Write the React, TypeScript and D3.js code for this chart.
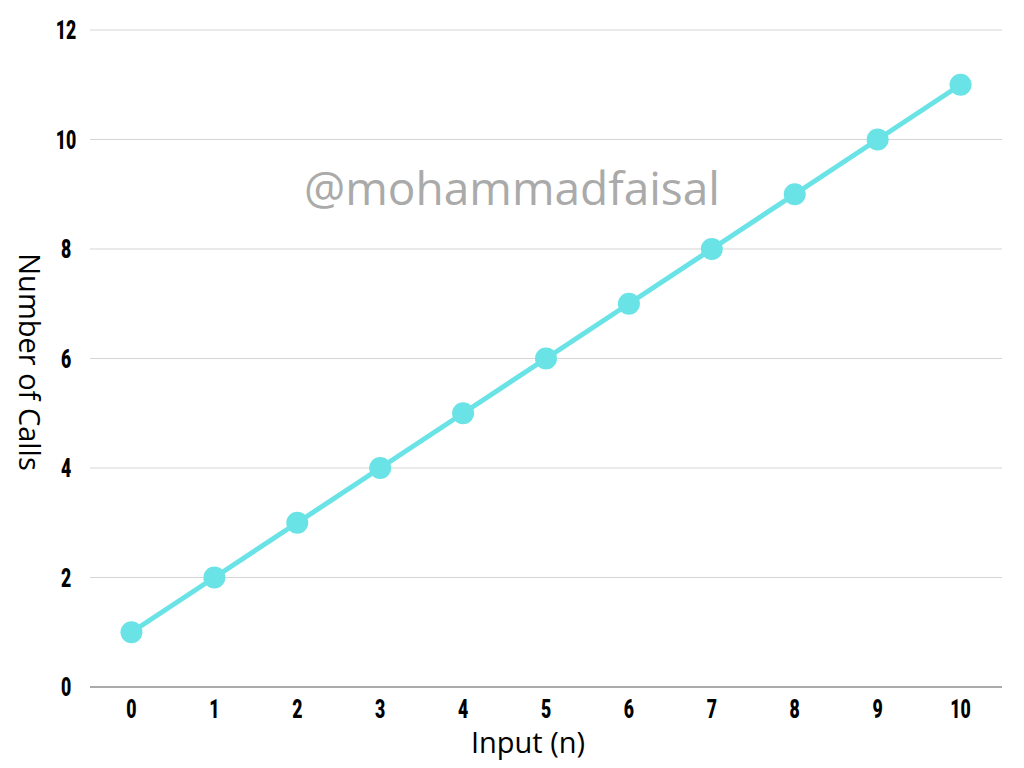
import * as React from "react";
import * as d3 from "d3";

const inputs = ["0", "1", "2", "3", "4", "5", "6", "7", "8", "9", "10"];
const calls = [1, 2, 3, 4, 5, 6, 7, 8, 9, 10, 11];
const yTicks = [0, 2, 4, 6, 8, 10, 12];

const W = 1024, H = 768;
const margin = { top: 30, right: 22, bottom: 81, left: 90 };

// condensed bold digits: no narrow font installed, so squeeze a bold sans
function Tick({ x, y, label }: { x: number; y: number; label: string }) {
  return (
    <text transform={`translate(${x},${y}) scale(0.68,1)`} dy="0.36em" textAnchor="middle"
      fontFamily="Roboto, 'Liberation Sans', sans-serif" fontWeight={900} fontSize={26} fill="#000">
      {label}
    </text>
  );
}

export default function App() {
  const x = d3.scaleBand().domain(inputs).range([margin.left, W - margin.right]).padding(0);
  const y = d3.scaleLinear().domain([0, 12]).range([H - margin.bottom, margin.top]);
  const cx = (i: number) => (x(inputs[i]) as number) + x.bandwidth() / 2;

  const line = d3.line<number>()
    .x((d, i) => cx(i))
    .y(d => y(d));

  return (
    <svg width={W} height={H} style={{ position: "absolute", left: 0, top: 0, background: "#fff" }}>
      {yTicks.map(t => (
        <g key={t}>
          <line x1={margin.left} x2={W - margin.right} y1={y(t)} y2={y(t)}
            stroke={t === 0 ? "#aaaaaa" : "#d4d4d4"} strokeWidth={t === 0 ? 2 : 1} />
          <Tick x={66} y={y(t)} label={String(t)} />
        </g>
      ))}
      {inputs.map((c, i) => (
        <Tick key={c} x={cx(i)} y={H - margin.bottom + 22} label={c} />
      ))}
      <text x={512} y={189} dy="0.35em" textAnchor="middle" fontFamily="'Open Sans', sans-serif"
        fontSize={46} fill="#aaaaaa">@mohammadfaisal</text>
      <path d={line(calls) as string} fill="none" stroke="#6ae3e6" strokeWidth={5} />
      {calls.map((v, i) => (
        <circle key={i} cx={cx(i)} cy={y(v)} r={11} fill="#6ae3e6" />
      ))}
      <text x={528} y={743} dy="0.35em" textAnchor="middle" fontFamily="'Open Sans', sans-serif"
        fontSize={29} fill="#000">Input (n)</text>
      <text transform={`translate(29,${362}) rotate(90)`} dy="0.35em" textAnchor="middle"
        fontFamily="'Open Sans', sans-serif" fontSize={29} fill="#000">Number of Calls</text>
    </svg>
  );
}
